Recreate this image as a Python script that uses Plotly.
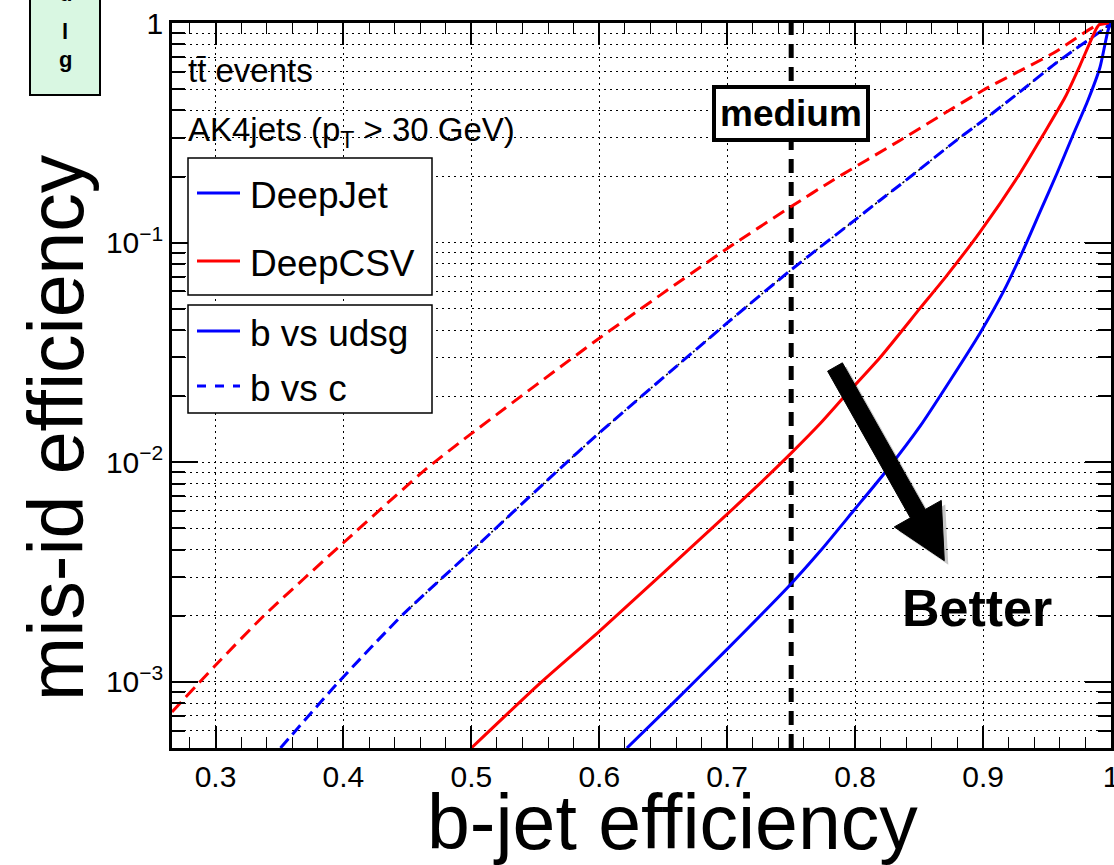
import plotly.graph_objects as go

# ---------------- data ----------------
medium_wp = 0.75

# DeepJet, b vs udsg (blue solid)
x_deepjet_udsg = [0.6216, 0.658, 0.70, 0.75, 0.7727, 0.7984, 0.8248, 0.8508, 0.8755, 0.8977,
                  0.9159, 0.9315, 0.9445, 0.9578, 0.9703, 0.982, 0.9914, 0.9977, 1.0]
y_deepjet_udsg = [5.0e-4, 8.05e-4, 1.41e-3, 2.8e-3, 3.94e-3, 5.98e-3, 9.2e-3, 0.0146, 0.0242, 0.0388,
                  0.0598, 0.0927, 0.138, 0.207, 0.309, 0.445, 0.629, 0.927, 1.0]

# DeepCSV, b vs udsg (red solid)
x_deepcsv_udsg = [0.50, 0.554, 0.60, 0.70, 0.7284, 0.75, 0.7727, 0.7909, 0.8195, 0.8508,
                  0.8716, 0.8977, 0.9289, 0.9469, 0.9641, 0.9758, 0.9836, 0.9891, 0.992, 1.0]
y_deepcsv_udsg = [5.0e-4, 9.9e-4, 1.7e-3, 5.8e-3, 8.3e-3, 0.0110, 0.0150, 0.0197, 0.0300, 0.0503,
                  0.0708, 0.112, 0.207, 0.309, 0.459, 0.642, 0.817, 0.956, 0.995, 1.0]

# DeepCSV, b vs c (red dashed)
x_deepcsv_c = [0.266, 0.30, 0.3378, 0.40, 0.4654, 0.50, 0.60, 0.70, 0.75, 0.783, 0.835,
               0.90, 0.9547, 0.989, 1.0]
y_deepcsv_c = [7.3e-4, 1.19e-3, 2.0e-3, 4.3e-3, 9.4e-3, 0.0135, 0.0367, 0.094, 0.146, 0.193,
               0.292, 0.494, 0.728, 0.976, 1.0]

# DeepJet, b vs c (blue dashed)
x_deepjet_c = [0.3508, 0.3963, 0.447, 0.50, 0.5656, 0.60, 0.70, 0.75, 0.80, 0.8195, 0.835,
               0.8794, 0.90, 0.9263, 0.9576, 0.9966, 1.0]
y_deepjet_c = [5.0e-4, 1.0e-3, 2.04e-3, 3.94e-3, 8.95e-3, 0.0136, 0.0431, 0.0752, 0.127,
               0.156, 0.183, 0.293, 0.36, 0.473, 0.661, 0.96, 1.0]

x_tickvals = [0.3, 0.4, 0.5, 0.6, 0.7, 0.8, 0.9, 1.0]
x_ticktext = ["0.3", "0.4", "0.5", "0.6", "0.7", "0.8", "0.9", "1"]
y_tickvals = [1e-3, 1e-2, 1e-1, 1.0]
y_ticktext = ["10<sup>\u22123</sup>", "10<sup>\u22122</sup>", "10<sup>\u22121</sup>", "1"]
y_minor_vals = [k * 10.0 ** e for e in (-4, -3, -2, -1) for k in range(2, 10)]

legend_taggers = ["DeepJet", "DeepCSV"]
legend_types = ["b vs udsg", "b vs c"]

# ---------------- layout geometry helpers ----------------
W, H = 1114, 865
ML, MR, MT, MB = 172, 3, 23, 117
PW, PH = W - ML - MR, H - MT - MB


def px(xp):
    return (xp - ML) / PW


def py(yp):
    return (H - MB - yp) / PH


FONT = "Liberation Sans, Arial, Helvetica, sans-serif"
BLUE = "#0000ff"
RED = "#ff0000"
SMOOTH = 0.6

fig = go.Figure()

# medium working point line
fig.add_trace(go.Scatter(x=[medium_wp, medium_wp], y=[5e-4, 1.0], mode="lines",
                         line=dict(color="black", width=5, dash="14px,9px"), hoverinfo="skip"))

# black dotted curve under the blue dashed one
fig.add_trace(go.Scatter(x=x_deepjet_c[2:], y=y_deepjet_c[2:], mode="lines",
                         line=dict(color="black", width=1.5, dash="2px,3px",
                                   shape="spline", smoothing=SMOOTH), hoverinfo="skip"))

fig.add_trace(go.Scatter(x=x_deepcsv_c, y=y_deepcsv_c, mode="lines",
                         line=dict(color=RED, width=3, dash="13px,7px",
                                   shape="spline", smoothing=SMOOTH), name="DeepCSV b vs c"))
fig.add_trace(go.Scatter(x=x_deepjet_c, y=y_deepjet_c, mode="lines",
                         line=dict(color=BLUE, width=3, dash="12px,6px",
                                   shape="spline", smoothing=SMOOTH), name="DeepJet b vs c"))
fig.add_trace(go.Scatter(x=x_deepcsv_udsg, y=y_deepcsv_udsg, mode="lines",
                         line=dict(color=RED, width=3, shape="spline", smoothing=SMOOTH),
                         name="DeepCSV b vs udsg"))
fig.add_trace(go.Scatter(x=x_deepjet_udsg, y=y_deepjet_udsg, mode="lines",
                         line=dict(color=BLUE, width=3, shape="spline", smoothing=SMOOTH),
                         name="DeepJet b vs udsg"))

shapes = []
annotations = []

# legend boxes
for (x0, y0, x1, y1) in [(188, 158, 432, 295), (188, 305, 432, 413)]:
    shapes.append(dict(type="rect", xref="paper", yref="paper", x0=px(x0), x1=px(x1),
                       y0=py(y1), y1=py(y0), line=dict(color="black", width=1.5),
                       fillcolor="white", layer="above"))

legend_rows = [(193, legend_taggers[0], BLUE, "solid"),
               (261, legend_taggers[1], RED, "solid"),
               (331, legend_types[0], BLUE, "solid"),
               (386, legend_types[1], BLUE, "dash")]
for yrow, label, col, dash in legend_rows:
    shapes.append(dict(type="line", xref="paper", yref="paper", x0=px(197), x1=px(240),
                       y0=py(yrow), y1=py(yrow), line=dict(color=col, width=3, dash=dash),
                       layer="above"))
    annotations.append(dict(text=label, xref="paper", yref="paper", x=px(248), y=py(yrow + 2),
                            xanchor="left", yanchor="middle", showarrow=False,
                            font=dict(family=FONT, size=37, color="black")))

# text labels
annotations.append(dict(text="tt\u0304 events", xref="paper", yref="paper", x=px(186), y=py(70),
                        xanchor="left", yanchor="middle", showarrow=False,
                        font=dict(family=FONT, size=33, color="black")))
annotations.append(dict(text="AK4jets (p<sub>T</sub> > 30 GeV)", xref="paper", yref="paper",
                        x=px(186), y=py(132), xanchor="left", yanchor="middle", showarrow=False,
                        font=dict(family=FONT, size=33, color="black")))

# medium box
annotations.append(dict(text="<b>medium</b>", xref="x", yref="paper", x=medium_wp, y=py(113),
                        xanchor="center", yanchor="middle", showarrow=False,
                        bgcolor="white", bordercolor="black", borderwidth=4, borderpad=4,
                        font=dict(family=FONT, size=37, color="black")))

# Better
annotations.append(dict(text="<b>Better</b>", xref="paper", yref="paper", x=px(977), y=py(608),
                        xanchor="center", yanchor="middle", showarrow=False,
                        font=dict(family=FONT, size=52, color="black")))

# axis titles
annotations.append(dict(text="b-jet efficiency", xref="paper", yref="paper", x=px(672), y=py(822),
                        xanchor="center", yanchor="middle", showarrow=False,
                        font=dict(family=FONT, size=77, color="black")))
annotations.append(dict(text="mis-id efficiency", xref="paper", yref="paper", x=px(56), y=py(428),
                        xanchor="center", yanchor="middle", showarrow=False, textangle=-90,
                        font=dict(family=FONT, size=77, color="black")))

# green box at top-left (cropped)
shapes.append(dict(type="rect", xref="paper", yref="paper", x0=px(30), x1=px(100),
                   y0=py(95), y1=py(-5), line=dict(color="black", width=2),
                   fillcolor="#d9f7e2", layer="above"))
for ch, yc in [("u", -6), ("l", 31), ("g", 60)]:
    annotations.append(dict(text="<b>" + ch + "</b>", xref="paper", yref="paper", x=px(65),
                            y=py(yc), xanchor="center", yanchor="middle", showarrow=False,
                            font=dict(family=FONT, size=22, color="black")))

# arrow (pixel geometry -> paper)
tail = (835.0, 367.0)
tip = (944.3, 560.7)
dx, dy = tip[0] - tail[0], tip[1] - tail[1]
L = (dx * dx + dy * dy) ** 0.5
ux, uy = dx / L, dy / L
nx, ny = uy, -ux
head_len, head_hw, shaft_hw = 54.0, 27.0, 8.5
bx, by = tip[0] - ux * head_len, tip[1] - uy * head_len
pts = [(tail[0] + nx * shaft_hw, tail[1] + ny * shaft_hw),
       (bx + nx * shaft_hw, by + ny * shaft_hw),
       (bx + nx * head_hw, by + ny * head_hw),
       tip,
       (bx - nx * head_hw, by - ny * head_hw),
       (bx - nx * shaft_hw, by - ny * shaft_hw),
       (tail[0] - nx * shaft_hw, tail[1] - ny * shaft_hw)]


def path_of(points, ox=0.0, oy=0.0):
    s = ""
    for i, (a, b) in enumerate(points):
        s += ("M" if i == 0 else "L") + f"{px(a + ox):.5f},{py(b + oy):.5f}"
    return s + "Z"


shapes.append(dict(type="path", xref="paper", yref="paper", path=path_of(pts, 4, 4),
                   fillcolor="rgba(0,0,0,0.22)", line=dict(width=0), layer="above"))
shapes.append(dict(type="path", xref="paper", yref="paper", path=path_of(pts),
                   fillcolor="black", line=dict(color="black", width=1), layer="above"))

axis_common = dict(showline=True, linecolor="black", linewidth=2.5, mirror="allticks",
                   ticks="inside", tickcolor="black", tickwidth=1.5, zeroline=False,
                   showgrid=True, gridcolor="black", gridwidth=1, griddash="2px,4px",
                   automargin=False, ticklabeloverflow="allow",
                   tickfont=dict(family=FONT, size=30, color="black"))

fig.update_xaxes(range=[0.266, 1.0], tickmode="array", tickvals=x_tickvals, ticktext=x_ticktext,
                 ticklen=22,
                 minor=dict(dtick=0.02, tick0=0.0, ticks="inside", ticklen=11, tickcolor="black",
                            tickwidth=1.2, showgrid=False),
                 **axis_common)
fig.update_yaxes(type="log", range=[-3.30103, 0.0], tickmode="array", tickvals=y_tickvals,
                 ticktext=y_ticktext, ticklen=26,
                 minor=dict(tickmode="array", tickvals=y_minor_vals, ticks="inside", ticklen=13,
                            tickcolor="black", tickwidth=1.5, showgrid=True, gridcolor="black",
                            gridwidth=1, griddash="2px,4px"),
                 **axis_common)

fig.update_layout(width=W, height=H,
                  margin=dict(l=ML, r=MR, t=MT, b=MB, pad=0, autoexpand=False),
                  plot_bgcolor="white", paper_bgcolor="white", showlegend=False,
                  hovermode=False, shapes=shapes, annotations=annotations,
                  font=dict(family=FONT, color="black"))

fig.write_html("out.html")
